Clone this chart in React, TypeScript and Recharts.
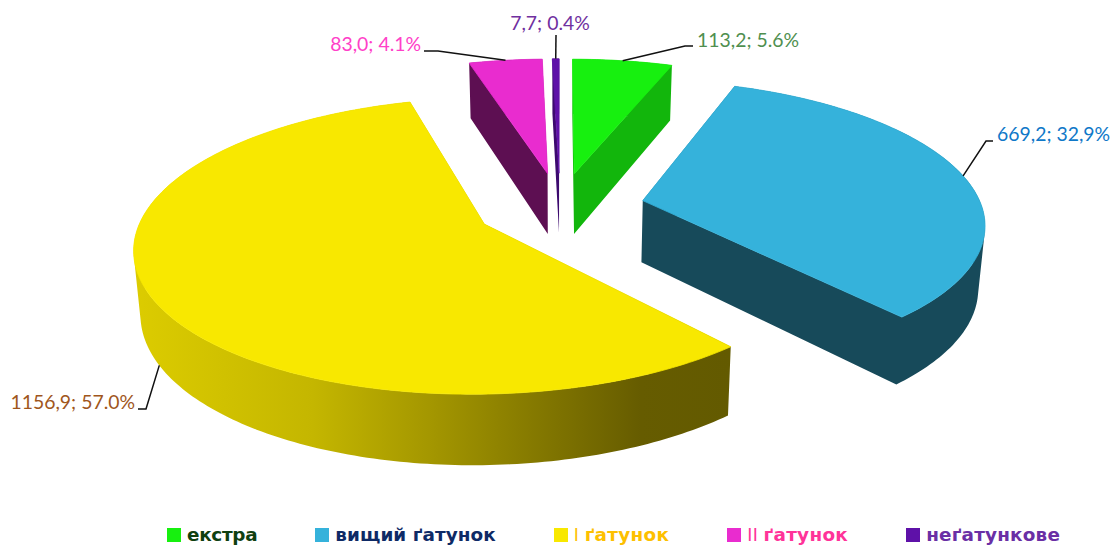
import React from 'react';
import { Legend, Pie, PieChart } from 'recharts';

const grades = ['екстра', 'вищий ґатунок', 'I ґатунок', 'II ґатунок', 'неґатункове'];
const volumes = [113.2, 669.2, 1156.9, 83.0, 7.7];
const labelTexts = ['113,2; 5.6%', '669,2; 32,9%', '1156,9; 57.0%', '83,0; 4.1%', '7,7; 0.4%'];

const topColors = ['#17f00f', '#35b2db', '#f8e800', '#e92ccf', '#5e11a8'];
const sideColors = ['#12b60c', '#174a5a', 'url(#yellowWall)', '#5d0f52', '#3c0a6e'];
const labelColors = ['#4f8f4f', '#0f78c8', '#a0561c', '#ff40c8', '#7030a0'];
const legendColors = ['#0f4010', '#0e2a66', '#fdc000', '#ff3399', '#6a2fa5'];
const legendTracking = [-0.3, 0.08, 0.3, 0.3, 0.2];

// leader elbow / end and where the text goes, per slice
const leaderEnds = [
  [[685, 46], [693, 46]],
  [[986, 141], [993, 141]],
  [[146, 409], [138, 409]],
  [[438, 51], [424, 51]],
  [[556, 35], [556, 35]],
];
const labelSpots = [
  { x: 697, y: 47, anchor: 'start' },
  { x: 997, y: 141, anchor: 'start' },
  { x: 135, y: 409, anchor: 'end' },
  { x: 421, y: 51, anchor: 'end' },
  { x: 550, y: 30, anchor: 'middle' },
];
const leaderOnBottom = [false, false, true, false, false];

const EXPLODE = 0.25;
const SQUASH = 0.413;
const PERSP = 0.145;
const DEPTH = 62;
const CONVERGE = 0.016;

type Pt = { x: number; y: number };

// disk coordinates (x right, y towards viewer, radius 1) to screen
const project = (cx: number, cy: number, r: number, x: number, y: number, z: number) => {
  const s = 1 / (1 - PERSP * y);
  const shrink = 1 - CONVERGE * z;
  return {
    x: cx + r * x * s * shrink,
    y: cy + r * SQUASH * y * s * shrink + DEPTH * z * s,
  };
};

const onSlice = (mid: number, angle: number) => {
  const m = ((90 - mid) * Math.PI) / 180;
  const a = ((90 - angle) * Math.PI) / 180;
  return {
    x: EXPLODE * Math.sin(m) + Math.sin(a),
    y: -EXPLODE * Math.cos(m) - Math.cos(a),
  };
};

const apexOf = (mid: number) => {
  const m = ((90 - mid) * Math.PI) / 180;
  return { x: EXPLODE * Math.sin(m), y: -EXPLODE * Math.cos(m) };
};

const toPath = (pts: Pt[]) =>
  pts.map((p, i) => `${i ? 'L' : 'M'}${p.x.toFixed(2)} ${p.y.toFixed(2)}`).join(' ') + ' Z';

// same winding for every quad, so the nonzero fill is a plain union
const wound = (pts: Pt[]) => {
  let area = 0;
  pts.forEach((p, i) => {
    const q = pts[(i + 1) % pts.length];
    area += p.x * q.y - q.x * p.y;
  });
  return area < 0 ? pts.slice().reverse() : pts;
};

const Slice3D = (props: any) => {
  const { cx, cy, outerRadius: r, startAngle, endAngle, midAngle, index } = props;
  const steps = Math.max(2, Math.ceil(Math.abs(endAngle - startAngle)));
  const arc = (z: number) => {
    const pts: Pt[] = [];
    for (let i = 0; i <= steps; i++) {
      const p = onSlice(midAngle, startAngle + ((endAngle - startAngle) * i) / steps);
      pts.push(project(cx, cy, r, p.x, p.y, z));
    }
    return pts;
  };
  const a = apexOf(midAngle);
  const apexTop = project(cx, cy, r, a.x, a.y, 0);
  const apexBottom = project(cx, cy, r, a.x, a.y, 1);
  const top = arc(0);
  const bottom = arc(1);
  const side = sideColors[index];
  const wall = [
    wound([apexTop, top[0], bottom[0], apexBottom]),
    wound([apexTop, top[steps], bottom[steps], apexBottom]),
    ...top.slice(1).map((p, i) => wound([top[i], p, bottom[i + 1], bottom[i]])),
  ];
  return (
    <g>
      <defs>
        <linearGradient id="yellowWall" gradientUnits="userSpaceOnUse" x1="135" x2="730" y1="0" y2="0">
          <stop offset="0" stopColor="#dccc00" />
          <stop offset="0.3" stopColor="#c4b600" />
          <stop offset="0.5" stopColor="#a39600" />
          <stop offset="0.72" stopColor="#7c7100" />
          <stop offset="0.85" stopColor="#665c00" />
          <stop offset="1" stopColor="#635a00" />
        </linearGradient>
      </defs>
      <path d={wall.map(toPath).join(' ')} fill={side} />
      <path d={toPath([apexTop, ...top])} fill={topColors[index]} stroke={topColors[index]} strokeWidth={0.8} />
    </g>
  );
};

const SliceLabel = (props: any) => {
  const { cx, cy, outerRadius: r, midAngle, index } = props;
  const p = onSlice(midAngle, midAngle);
  const start = project(cx, cy, r, p.x, p.y, leaderOnBottom[index] ? 1 : 0);
  const line = [start, ...leaderEnds[index].map(([x, y]) => ({ x, y }))];
  const spot = labelSpots[index];
  return (
    <g>
      <polyline points={line.map((q) => `${q.x},${q.y}`).join(' ')} fill="none" stroke="#111" strokeWidth={1.5} />
      <text x={spot.x} y={spot.y} textAnchor={spot.anchor as any} fontFamily="Lato" fontSize={19.4} fill={labelColors[index]}>
        {labelTexts[index]}
      </text>
    </g>
  );
};

const GradeLegend = () => (
  <div style={{ display: 'flex', gap: 58, fontFamily: '"DejaVu Sans"', fontWeight: 700, fontSize: 18.4, lineHeight: '20px' }}>
    {grades.map((name, i) => {
      const roman = name.match(/^(I+) (.*)$/);
      return (
        <div
          key={name}
          style={{ display: 'flex', alignItems: 'center', color: legendColors[i], whiteSpace: 'nowrap', letterSpacing: legendTracking[i] }}
        >
          <span style={{ width: 14, height: 14, background: topColors[i], marginRight: 6 }} />
          {roman ? (
            <span>
              <span style={{ fontWeight: 400, fontFamily: 'Liberation Sans' }}>{roman[1]} </span>
              {roman[2]}
            </span>
          ) : (
            name
          )}
        </div>
      );
    })}
  </div>
);

const pieData = grades.map((name, i) => ({ name, value: volumes[i] }));

export default function App() {
  return (
    <div style={{ position: 'absolute', left: 0, top: 0, width: 1114, height: 546 }}>
      <PieChart width={1114} height={546} margin={{ top: 0, right: 0, bottom: 0, left: 0 }}>
        <Pie
          data={pieData}
          dataKey="value"
          nameKey="name"
          cx={560}
          cy={207}
          outerRadius={339}
          startAngle={90}
          endAngle={-270}
          stroke="none"
          shape={Slice3D}
          label={SliceLabel}
          labelLine={false}
          isAnimationActive={false}
        />
        <Legend
          content={GradeLegend}
          wrapperStyle={{ position: 'absolute', left: 167, top: 525, width: 'auto' }}
        />
      </PieChart>
    </div>
  );
}
